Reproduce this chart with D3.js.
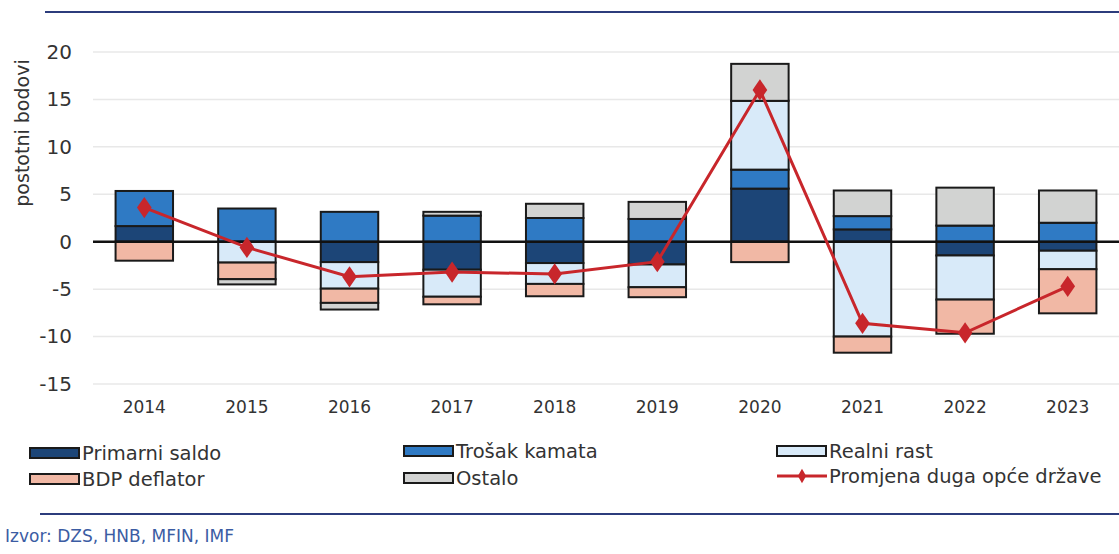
<!DOCTYPE html>
<html lang="hr">
<head>
  <meta charset="UTF-8">
  <title>Doprinosi promjeni duga opće države</title>
  <style>
    body {
      margin: 0;
      padding: 0;
      background-color: #ffffff;
      font-family: "DejaVu Sans", "Noto Sans", sans-serif;
    }
    svg text {
      fill: #333;
    }
  </style>
</head>
<body>
<div id="chart"></div>
<script src="https://d3js.org/d3.v7.min.js"></script>
<script>
  const years = ["2014", "2015", "2016", "2017", "2018", "2019", "2020", "2021", "2022", "2023"];
  const primarniSaldo = [1.65, 0, -2.15, -2.95, -2.25, -2.4, 5.6, 1.3, -1.45, -0.95];
  const trosakKamata = [3.7, 3.5, 3.15, 2.75, 2.5, 2.4, 2.0, 1.4, 1.7, 2.0];
  const realniRast = [0, -2.2, -2.8, -2.85, -2.2, -2.4, 7.25, -10.0, -4.65, -1.95];
  const bdpDeflator = [-2.0, -1.75, -1.5, -0.8, -1.3, -1.05, -2.15, -1.7, -3.6, -4.65];
  const ostalo = [0, -0.55, -0.7, 0.4, 1.5, 1.8, 3.9, 2.7, 4.0, 3.4];
  const promjenaDuga = [3.6, -0.6, -3.7, -3.2, -3.4, -2.1, 16.0, -8.6, -9.6, -4.7];
  const yTicks = [20, 15, 10, 5, 0, -5, -10, -15];

  const series = [
    { key: "primarni", name: "Primarni saldo", values: primarniSaldo, color: "#1c4577" },
    { key: "kamata", name: "Trošak kamata", values: trosakKamata, color: "#2f7ac4" },
    { key: "realni", name: "Realni rast", values: realniRast, color: "#d8eaf9" },
    { key: "deflator", name: "BDP deflator", values: bdpDeflator, color: "#f1b8a5" },
    { key: "ostalo", name: "Ostalo", values: ostalo, color: "#d2d3d2" }
  ];
  const lineColor = "#c8262b";

  const width = 1119;
  const height = 554;
  const margin = { top: 52, right: 0, bottom: 170, left: 93 };

  const svg = d3.select("#chart").append("svg")
    .attr("width", width)
    .attr("height", height);

  const x = d3.scaleBand()
    .domain(years)
    .range([margin.left, width - margin.right])
    .paddingInner(0.44)
    .paddingOuter(0.22);

  const y = d3.scaleLinear()
    .domain([-15, 20])
    .range([384, 52]);

  // table for stack
  const table = years.map((yr, i) => {
    const row = { year: yr };
    series.forEach(s => { row[s.key] = s.values[i]; });
    return row;
  });

  const stacked = d3.stack()
    .keys(series.map(s => s.key))
    .offset(d3.stackOffsetDiverging)(table);

  // top and bottom rules
  svg.append("line")
    .attr("x1", 45).attr("x2", width)
    .attr("y1", 12).attr("y2", 12)
    .attr("stroke", "#2c3c7c").attr("stroke-width", 2);
  svg.append("line")
    .attr("x1", 40).attr("x2", width)
    .attr("y1", 514).attr("y2", 514)
    .attr("stroke", "#2c3c7c").attr("stroke-width", 2);

  // grid
  svg.append("g")
    .selectAll("line")
    .data(yTicks.filter(t => t !== 0))
    .join("line")
    .attr("x1", margin.left).attr("x2", width)
    .attr("y1", d => y(d)).attr("y2", d => y(d))
    .attr("stroke", "#e8e8e8").attr("stroke-width", 1.5);

  // y axis
  const yAxis = svg.append("g")
    .attr("transform", `translate(${margin.left},0)`)
    .call(d3.axisLeft(y).tickValues(yTicks).tickSize(0).tickPadding(21).tickFormat(d => String(d)));
  yAxis.select(".domain").remove();
  yAxis.selectAll("text")
    .attr("font-size", 20)
    .attr("font-family", "DejaVu Sans, sans-serif")
    .style("fill", "#333");

  // x axis
  const xAxis = svg.append("g")
    .attr("transform", `translate(0,${y(-15)})`)
    .call(d3.axisBottom(x).tickSize(0).tickPadding(17));
  xAxis.select(".domain").remove();
  xAxis.selectAll("text")
    .attr("font-size", 17)
    .attr("font-family", "DejaVu Sans, sans-serif")
    .style("fill", "#333");

  svg.append("text")
    .attr("transform", `translate(29,${133}) rotate(-90)`)
    .attr("text-anchor", "middle")
    .attr("font-size", 19)
    .text("postotni bodovi");

  // bars
  const layers = svg.append("g")
    .selectAll("g")
    .data(stacked)
    .join("g")
    .attr("fill", (d, i) => series[i].color);

  layers.selectAll("rect")
    .data(d => d.filter(p => Math.abs(p[1] - p[0]) > 0.001))
    .join("rect")
    .attr("x", d => x(d.data.year))
    .attr("width", x.bandwidth())
    .attr("y", d => y(Math.max(d[0], d[1])))
    .attr("height", d => Math.abs(y(d[0]) - y(d[1])))
    .attr("stroke", "#1a1a1a")
    .attr("stroke-width", 2);

  // zero line
  svg.append("line")
    .attr("x1", margin.left).attr("x2", width)
    .attr("y1", y(0)).attr("y2", y(0))
    .attr("stroke", "#111").attr("stroke-width", 2.5);

  // debt change line
  const line = d3.line()
    .x((d, i) => x(years[i]) + x.bandwidth() / 2)
    .y(d => y(d));

  svg.append("path")
    .datum(promjenaDuga)
    .attr("d", line)
    .attr("fill", "none")
    .attr("stroke", lineColor)
    .attr("stroke-width", 3);

  const diamond = d3.symbol().type(d3.symbolDiamond).size(130);
  svg.append("g")
    .selectAll("path")
    .data(promjenaDuga)
    .join("path")
    .attr("transform", (d, i) => `translate(${x(years[i]) + x.bandwidth() / 2},${y(d)}) scale(1.2,1)`)
    .attr("d", diamond)
    .attr("fill", lineColor);

  // legend
  const legendItems = [
    { s: series[0], x: 30, y: 453 },
    { s: series[1], x: 404, y: 451 },
    { s: series[2], x: 777, y: 451 },
    { s: series[3], x: 30, y: 479 },
    { s: series[4], x: 404, y: 478 },
    { s: null, x: 777, y: 476 }
  ];
  const legend = svg.append("g");
  legendItems.forEach(item => {
    const g = legend.append("g").attr("transform", `translate(${item.x},${item.y})`);
    if (item.s) {
      g.append("rect")
        .attr("x", 0).attr("y", -5)
        .attr("width", 49).attr("height", 10)
        .attr("fill", item.s.color)
        .attr("stroke", "#1a1a1a").attr("stroke-width", 2);
    } else {
      g.append("line")
        .attr("x1", 0).attr("x2", 50)
        .attr("y1", 0).attr("y2", 0)
        .attr("stroke", lineColor).attr("stroke-width", 3);
      g.append("path")
        .attr("transform", "translate(25,0)")
        .attr("d", d3.symbol().type(d3.symbolDiamond).size(60))
        .attr("fill", lineColor);
    }
    g.append("text")
      .attr("x", 52)
      .attr("y", 0)
      .attr("dy", "0.35em")
      .attr("font-size", 19.5)
      .text(item.s ? item.s.name : "Promjena duga opće države");
  });

  svg.append("text")
    .attr("x", 5)
    .attr("y", 542)
    .attr("font-size", 17)
    .style("fill", "#3b5ca3")
    .text("Izvor: DZS, HNB, MFIN, IMF");
</script>
</body>
</html>
